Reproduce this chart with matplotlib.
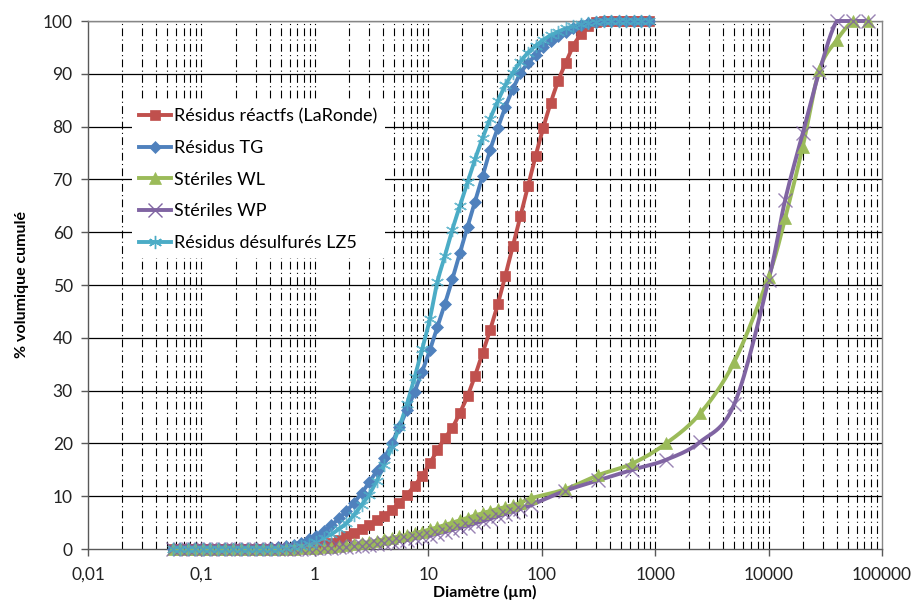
import numpy as np
import matplotlib
matplotlib.use("Agg")
import matplotlib.pyplot as plt
from matplotlib.lines import Line2D

plt.rcParams['font.family'] = ['Lato', 'DejaVu Sans']

# ---- data ----
# laser diffraction grid (µm)
d_laser = [0.0557, 0.0649, 0.0757, 0.0882, 0.103, 0.120, 0.140, 0.163, 0.190, 0.222,
           0.258, 0.301, 0.351, 0.410, 0.477, 0.557, 0.649, 0.757, 0.882, 1.03,
           1.20, 1.40, 1.63, 1.90, 2.22, 2.58, 3.01, 3.51, 4.10, 4.77,
           5.57, 6.49, 7.57, 8.82, 10.3, 12.0, 14.0, 16.3, 19.0, 22.2,
           25.8, 30.1, 35.1, 41.0, 47.7, 55.7, 64.9, 75.7, 88.2, 103,
           120, 140, 163, 190, 222, 258, 301, 351, 410, 477,
           557, 649, 757, 882]

red_vals = [0, 0, 0, 0, 0, 0, 0, 0, 0, 0,
            0, 0, 0, 0, 0, 0, 0.05, 0.1, 0.2, 0.4,
            0.7, 1.1, 1.7, 2.4, 3.0, 3.7, 4.5, 5.4, 6.3, 7.4,
            8.8, 10.3, 12.0, 13.9, 16.2, 18.7, 21.0, 23.0, 25.8, 29.0,
            32.8, 37.1, 41.5, 46.4, 51.7, 57.4, 63.1, 68.75, 74.4, 79.7,
            84.5, 88.7, 92.1, 95.3, 97.5, 99.0, 99.8, 100, 100, 100,
            100, 100, 100, 100]

blue_vals = [0, 0, 0, 0, 0, 0, 0, 0, 0, 0,
             0, 0, 0.05, 0.15, 0.3, 0.5, 0.8, 1.2, 1.8, 2.5,
             3.4, 4.5, 5.8, 7.2, 8.8, 10.6, 12.6, 14.8, 17.2, 20.0,
             23.2, 26.3, 29.8, 33.6, 37.6, 42.0, 46.4, 51.1, 56.1, 61.0,
             65.8, 70.6, 75.6, 79.7, 83.7, 87.1, 90.1, 92.0, 93.5, 95.0,
             96.2, 97.2, 98.0, 98.7, 99.2, 99.6, 99.9, 100, 100, 100,
             100, 100, 100, 100]

cyan_vals = [0, 0, 0, 0, 0, 0, 0, 0, 0, 0,
             0, 0, 0, 0, 0.05, 0.15, 0.3, 0.6, 0.95, 1.4,
             2.1, 2.8, 3.8, 4.9, 6.5, 8.3, 10.3, 12.9, 16.0, 19.3,
             23.2, 27.5, 32.5, 37.8, 43.5, 50.5, 55.5, 60.5, 65.0, 69.5,
             73.8, 77.8, 81.5, 84.8, 87.8, 90.2, 92.3, 94.0, 95.3, 96.4,
             97.3, 98.0, 98.6, 99.0, 99.4, 99.7, 99.9, 100, 100, 100,
             100, 100, 100, 100]

# waste rock: laser grid up to 64.9 µm, then sieve sizes
d_rock = [0.0557, 0.0649, 0.0757, 0.0882, 0.103, 0.120, 0.140, 0.163, 0.190, 0.222,
          0.258, 0.301, 0.351, 0.410, 0.477, 0.557, 0.649, 0.757, 0.882, 1.03,
          1.20, 1.40, 1.63, 1.90, 2.22, 2.58, 3.01, 3.51, 4.10, 4.77,
          5.57, 6.49, 7.57, 8.82, 10.3, 12.0, 14.0, 16.3, 19.0, 22.2,
          25.8, 30.1, 35.1, 41.0, 47.7, 55.7, 64.9,
          80, 160, 315, 630, 1250, 2500, 5000, 10000, 14000, 20000,
          28000, 40000, 56000, 75000]

green_vals = [0, 0, 0, 0, 0, 0, 0, 0, 0, 0,
              0, 0, 0, 0, 0, 0.02, 0.05, 0.1, 0.15, 0.2,
              0.3, 0.4, 0.55, 0.7, 0.9, 1.1, 1.3, 1.55, 1.8, 2.1,
              2.4, 2.7, 3.0, 3.3, 3.7, 4.1, 4.55, 5.0, 5.45, 5.9,
              6.35, 6.8, 7.2, 7.6, 7.95, 8.3, 8.7,
              9.6, 11.3, 14.0, 16.2, 20.0, 25.7, 35.5, 51.6, 62.6, 76.2,
              90.7, 96.4, 100, 100]

purple_vals = [0, 0, 0, 0, 0, 0, 0, 0, 0, 0,
               0, 0, 0, 0, 0, 0, 0.02, 0.05, 0.08, 0.1,
               0.15, 0.2, 0.3, 0.4, 0.5, 0.65, 0.8, 0.95, 1.1, 1.3,
               1.5, 1.75, 2.0, 2.25, 2.55, 2.9, 3.25, 3.65, 4.05, 4.45,
               4.85, 5.3, 5.75, 6.2, 6.65, 7.1, 7.6,
               8.3, 11.0, 13.0, 15.0, 16.9, 20.3, 27.5, 50.9, 66.1, 78.7,
               90.4, 100, 100, 100]

labels = ["Résidus réactfs (LaRonde)", "Résidus TG", "Stériles WL",
          "Stériles WP", "Résidus désulfurés LZ5"]
colors = ["#C0504D", "#4F81BD", "#9BBB59", "#8064A2", "#4BACC6"]

xtick_vals = [0.01, 0.1, 1, 10, 100, 1000, 10000, 100000]
xtick_labels = ["0,01", "0,1", "1", "10", "100", "1000", "10000", "100000"]
ytick_vals = [0, 10, 20, 30, 40, 50, 60, 70, 80, 90, 100]


def smooth(x, y, n=16):
    """Excel-like smoothed line (Catmull-Rom bezier) in log-x space."""
    lx = np.log10(np.asarray(x, float))
    yy = np.asarray(y, float)
    P = np.column_stack([lx, yy])
    out = [P[0]]
    m = len(P)
    t = np.linspace(0, 1, n)[1:]
    for i in range(m - 1):
        p0 = P[i - 1] if i > 0 else P[i]
        p1 = P[i]
        p2 = P[i + 1]
        p3 = P[i + 2] if i + 2 < m else P[i + 1]
        c1 = p1 + (p2 - p0) / 6.0
        c2 = p2 - (p3 - p1) / 6.0
        for tt in t:
            b = ((1 - tt) ** 3) * p1 + 3 * ((1 - tt) ** 2) * tt * c1 \
                + 3 * (1 - tt) * tt ** 2 * c2 + tt ** 3 * p2
            out.append(b)
    out = np.array(out)
    ys = np.clip(out[:, 1], 0, 100)
    return 10 ** out[:, 0], ys


fig = plt.figure(figsize=(9.14, 6.03), dpi=100)
ax = fig.add_axes([88 / 914, 54 / 603, 794 / 914, 528 / 603])
ax.set_xscale('log')
ax.set_xlim(0.01, 100000)
ax.set_ylim(0, 100)

# grid
ax.set_yticks(ytick_vals)
for v in ytick_vals[1:]:
    ax.axhline(v, color='black', lw=0.9, zorder=1)
for dec in range(-2, 5):
    for k in range(1, 10):
        xv = k * 10.0 ** dec
        if xv <= 0.01 or xv >= 100000:
            continue
        ax.axvline(xv, color='black', lw=0.8, ls=(0, (7, 3, 1, 3)), zorder=1)

series = [
    (d_laser, red_vals, 's', 6.8, colors[0]),
    (d_laser, blue_vals, 'D', 6.0, colors[1]),
    (d_rock, green_vals, '^', 8, colors[2]),
    (d_rock, purple_vals, 'x', 9.5, colors[3]),
    (d_laser, cyan_vals, (6, 2, 0), 9.5, colors[4]),
]
handles = []
for (xd, yd, mk, ms, c), lab in zip(series, labels):
    sx, sy = smooth(xd, yd)
    ax.plot(sx, sy, color=c, lw=2.8, zorder=3, clip_on=False, solid_capstyle='round')
    thin = (mk == 'x') or isinstance(mk, tuple)
    if thin:
        ax.plot(xd, yd, ls='none', marker=mk, ms=ms, mec=c, mew=1.0, alpha=0.8,
                zorder=4, clip_on=False)
    else:
        ax.plot(xd, yd, ls='none', marker=mk, ms=ms, mfc=c, mec=c, mew=0.5,
                zorder=4, clip_on=False)
    h = Line2D([], [], color=c, lw=2.8, marker=mk, ms=ms, mfc=c, mec=c,
               mew=1.0 if thin else 0.5)
    handles.append(h)

# axes styling
for s in ['top', 'right']:
    ax.spines[s].set_color('#868686')
    ax.spines[s].set_linewidth(1.0)
for s in ['left', 'bottom']:
    ax.spines[s].set_color('#595959')
    ax.spines[s].set_linewidth(1.0)
ax.set_xticks(xtick_vals)
ax.set_xticklabels(xtick_labels)
ax.xaxis.set_minor_locator(matplotlib.ticker.NullLocator())
ax.tick_params(axis='both', direction='out', length=5, width=1, color='#595959',
               labelsize=12.5, labelcolor='#222222')
ax.tick_params(axis='x', pad=8)
ax.tick_params(axis='y', pad=6)

ax.set_xlabel("Diamètre (µm)", fontsize=11.5, fontweight='bold', labelpad=1)
ax.set_ylabel("% volumique cumulé", fontsize=11.5, fontweight='bold', labelpad=10)

leg = ax.legend(handles, labels, loc='upper left', bbox_to_anchor=(0.044, 0.866),
                frameon=True, fontsize=13, handlelength=1.75, handletextpad=0.2,
                labelspacing=0.87, borderpad=0.4, fancybox=False)
leg.get_frame().set_facecolor('white')
leg.get_frame().set_edgecolor('none')
leg.get_frame().set_alpha(1.0)
leg.set_zorder(10)

fig.savefig("out.png", dpi=100)
